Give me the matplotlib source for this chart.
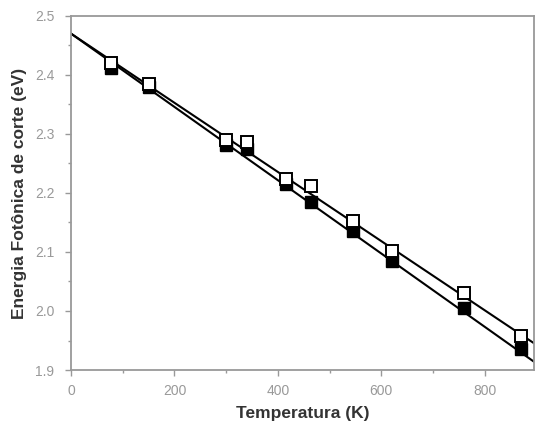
import matplotlib
matplotlib.use("Agg")
import matplotlib.pyplot as plt
import numpy as np
from matplotlib.ticker import MultipleLocator

# Data
temp = [78, 150, 300, 340, 415, 465, 545, 620, 760, 870]
e_filled = [2.412, 2.380, 2.282, 2.275, 2.215, 2.185, 2.135, 2.085, 2.005, 1.935]
e_open = [2.420, 2.385, 2.290, 2.287, 2.223, 2.212, 2.152, 2.102, 2.030, 1.957]

# Fitted lines (intercept, slope)
fit_filled = (2.470, -0.000621)
fit_open = (2.470, -0.000586)
fit_T = [0, 900]

plt.rcParams['font.family'] = ['Liberation Sans', 'DejaVu Sans']

fig = plt.figure(figsize=(5.36, 4.30), dpi=100)
ax = fig.add_axes([0.1325, 0.1395, 0.8635, 0.8235])

gray = "#999999"
Tl = np.array(fit_T)
ax.plot(Tl, fit_filled[0] + fit_filled[1] * Tl, color="black", lw=1.5, zorder=2)
ax.plot(Tl, fit_open[0] + fit_open[1] * Tl, color="black", lw=1.5, zorder=2)
ax.plot(temp, e_filled, linestyle="none", marker="s", ms=9, mfc="black",
        mec="black", zorder=3)
ax.plot(temp, e_open, linestyle="none", marker="s", ms=9, mfc="white",
        mec="black", mew=1.4, zorder=4)

ax.set_xlim(0, 895)
ax.set_ylim(1.9, 2.5)
ax.xaxis.set_major_locator(MultipleLocator(200))
ax.xaxis.set_minor_locator(MultipleLocator(100))
ax.yaxis.set_major_locator(MultipleLocator(0.1))
ax.yaxis.set_minor_locator(MultipleLocator(0.05))
ax.yaxis.set_major_formatter(plt.FuncFormatter(lambda v, p: f"{v:.1f}"))

for s in ax.spines.values():
    s.set_color(gray)
    s.set_linewidth(1.3)
ax.tick_params(which="major", direction="out", length=4, width=1, color=gray,
               labelcolor=gray, labelsize=10)
ax.tick_params(axis="y", which="major", pad=8)
ax.tick_params(axis="x", which="major", pad=6)
ax.tick_params(which="minor", direction="out", length=2, width=1, color=gray)

ax.set_xlabel("Temperatura (K)", fontsize=12.5, fontweight="bold", color="#333333",
              labelpad=6)
ax.set_ylabel("Energia Fotônica de corte (eV)", fontsize=12.5, fontweight="bold",
              color="#333333", labelpad=6)

fig.savefig("out.png", dpi=100)
